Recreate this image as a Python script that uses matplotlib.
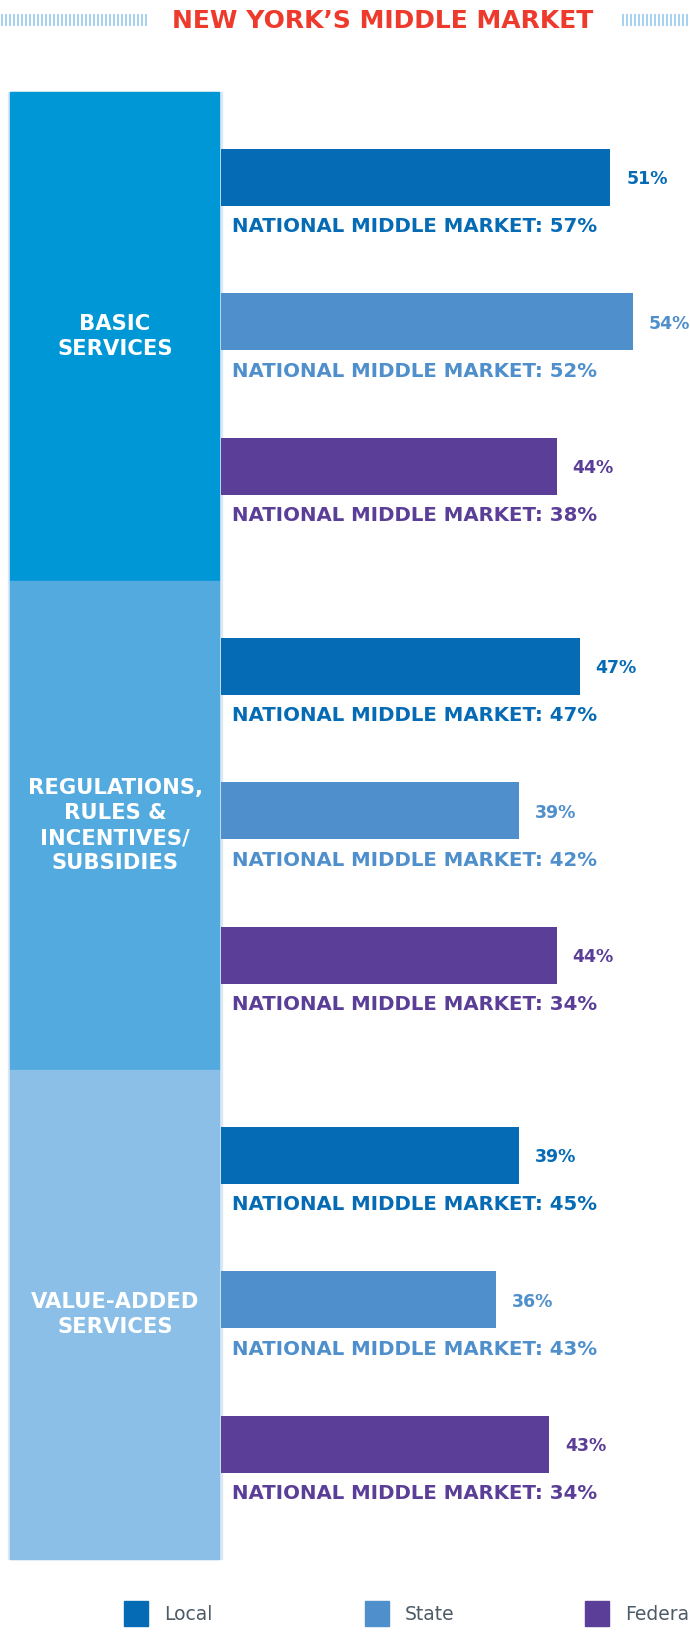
import matplotlib
matplotlib.use("Agg")
import matplotlib.pyplot as plt
from matplotlib.patches import Rectangle

# ---------------- data ----------------
title = "NEW YORK\u2019S MIDDLE MARKET"
groups = ["BASIC\nSERVICES", "REGULATIONS,\nRULES &\nINCENTIVES/\nSUBSIDIES", "VALUE-ADDED\nSERVICES"]
series = ["Local", "State", "Federal"]
ny_values = [[51, 54, 44], [47, 39, 44], [39, 36, 43]]
national_values = [[57, 52, 38], [47, 42, 34], [45, 43, 34]]

series_colors = ["#066BB5", "#4F8FCC", "#5B3E97"]
group_colors = ["#0097D6", "#52AADF", "#8BBFE7"]
title_color = "#EE3A2C"
legend_text_color = "#4D5B67"

W, H = 690, 1645
fig = plt.figure(figsize=(W / 100, H / 100), dpi=100)
fig.patch.set_facecolor("white")

def fx(px):
    return px / W

def fy(py):
    return 1 - py / H

FONT = ["DejaVu Sans"]

# overlay axes in pixel coordinates (for decoration)
ov = fig.add_axes([0, 0, 1, 1])
ov.set_xlim(0, W)
ov.set_ylim(H, 0)
ov.axis("off")

# title and hatch decorations
ov.text(383, 21, title, color=title_color, fontsize=18, fontweight="bold",
        family=FONT, ha="center", va="center")
xs_left = [x + 0.5 for x in range(1, 147, 4)]
xs_right = [x + 0.5 for x in range(622, 690, 4)]
ov.vlines(xs_left + xs_right, 14, 26, color="#9FCFEF", linewidth=1.3)

# left group panel
top, pitch = 92, 489
ov.add_patch(Rectangle((8, top), 214, pitch * 3, color="#DCE8F4", zorder=1))
for g, (lab, col) in enumerate(zip(groups, group_colors)):
    ov.add_patch(Rectangle((10, top + g * pitch), 209, pitch, color=col, zorder=2))
    ov.text(115, top + g * pitch + pitch / 2, lab, color="white", fontsize=15.2,
            fontweight="bold", family=FONT, ha="center", va="center",
            linespacing=1.32, zorder=3)

# legend
leg_x = [124, 365, 585]
for sx, name, col in zip(leg_x, series, series_colors):
    ov.add_patch(Rectangle((sx, 1601), 24, 25, color=col))
    ov.text(sx + 40, 1614, name, color=legend_text_color, fontsize=13.5,
            family=FONT, ha="left", va="center")

# bar axes: value 0 at x=221px, 7.63 px per percent
px_per = 7.63
x0 = 221
ax = fig.add_axes([fx(x0), fy(top + 3 * pitch), fx(W - x0), (3 * pitch) / H])
ax.set_xlim(0, (W - x0) / px_per)
ax.set_ylim(top + 3 * pitch, top)
ax.axis("off")

bar_h = 57
first_off = 57
bar_pitch = 144.5
for g in range(3):
    for i in range(3):
        yc = top + g * pitch + first_off + i * bar_pitch + bar_h / 2
        v = ny_values[g][i]
        ax.barh(yc, v, height=bar_h, color=series_colors[i], left=0)
        ax.text(v + 16 / px_per, yc + 2, f"{v}%", color=series_colors[i],
                fontsize=12.5, fontweight="bold", family=FONT, ha="left", va="center",
                clip_on=False)
        ax.text(11 / px_per, yc + bar_h / 2 + 21,
                f"NATIONAL MIDDLE MARKET: {national_values[g][i]}%",
                color=series_colors[i], fontsize=14.2, fontweight="bold", family=FONT,
                ha="left", va="center", clip_on=False)

fig.savefig("out.png", dpi=100)
